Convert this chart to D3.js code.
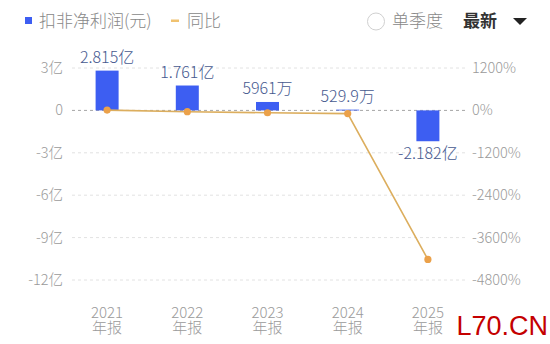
<!DOCTYPE html>
<html>
<head>
<meta charset="utf-8">
<script src="https://cdn.jsdelivr.net/npm/d3@7/dist/d3.min.js"></script>
<style>
  body { margin: 0; background: #fff; }
  svg { display: block; font-family: 'Noto Sans CJK SC', 'Noto Sans', sans-serif; font-weight: 300; }
  .grid line { stroke: #e2e2e2; stroke-dasharray: 3 3; }
  .tick-l, .tick-r { fill: #9a9a9a; font-size: 14.5px; }
</style>
</head>
<body>
<svg id="chart" width="550" height="344"></svg>
<script>
// data
const years = ['2021', '2022', '2023', '2024', '2025']
const profit = [2.815, 1.761, 0.5961, 0.05299, -2.182] // 亿元
const profitLabels = ['2.815亿', '1.761亿', '5961万', '529.9万', '-2.182亿']
const yoy = [8, -37.4, -66.1, -91.1, -4218] // %
const leftTicks = [3, 0, -3, -6, -9, -12]
const leftTickLabels = ['3亿', '0', '-3亿', '-6亿', '-9亿', '-12亿']
const rightTicks = [1200, 0, -1200, -2400, -3600, -4800]

const svg = d3.select('#chart')
const plot = { left: 72, right: 465, top: 68, bottom: 280 }

const x = d3.scaleBand().domain(years).range([67, 468])
const cx = d => x(d) + x.bandwidth() / 2
const yL = d3.scaleLinear().domain([-12, 3]).range([plot.bottom, plot.top])
const yR = d3.scaleLinear().domain([-4800, 1200]).range([plot.bottom, plot.top])

// grid
const grid = svg.append('g').classed('grid', true)
grid.selectAll('line').data(leftTicks).join('line')
  .attr('x1', plot.left).attr('x2', plot.right)
  .attr('y1', d => yL(d)).attr('y2', d => yL(d))
  .style('stroke', d => d === 0 ? '#a5a5a5' : null)

// left axis labels
svg.append('g').selectAll('text').data(leftTicks).join('text')
  .classed('tick-l', true)
  .attr('x', 63).attr('y', d => yL(d)).attr('dy', '0.35em')
  .attr('text-anchor', 'end')
  .text((d, i) => leftTickLabels[i])

// right axis labels
svg.append('g').selectAll('text').data(rightTicks).join('text')
  .classed('tick-r', true)
  .attr('x', 472).attr('y', d => yR(d)).attr('dy', '0.35em')
  .text(d => d + '%')

// x labels
const xg = svg.append('g').style('fill', '#9a9a9a').style('font-size', '15px').attr('text-anchor', 'middle')
xg.selectAll('text.yr').data(years).join('text').classed('yr', true)
  .attr('x', cx).attr('y', 317.5).text(d => d)
xg.selectAll('text.rp').data(years).join('text').classed('rp', true)
  .attr('x', cx).attr('y', 333).text('年报')

// bars
const barW = 23
svg.append('g').selectAll('rect').data(profit).join('rect')
  .attr('x', (d, i) => cx(years[i]) - barW / 2)
  .attr('width', barW)
  .attr('y', d => yL(Math.max(d, 0)))
  .attr('height', d => Math.max(0.8, Math.abs(yL(d) - yL(0))))
  .attr('fill', '#3d5ef2')

// value labels
svg.append('g').selectAll('text').data(profit).join('text')
  .attr('x', (d, i) => cx(years[i]))
  .attr('y', d => d >= 0 ? yL(d) - 7.5 : yL(d) + 18)
  .attr('text-anchor', 'middle')
  .style('fill', '#46598f').style('font-size', '16px')
  .text((d, i) => profitLabels[i])

// yoy line
const line = d3.line()
  .x((d, i) => cx(years[i]))
  .y(d => yR(d))
svg.append('path').datum(yoy)
  .attr('d', line)
  .attr('fill', 'none')
  .attr('stroke', '#dcae5e')
  .attr('stroke-width', 1.6)
svg.append('g').selectAll('circle').data(yoy).join('circle')
  .attr('cx', (d, i) => cx(years[i]))
  .attr('cy', d => yR(d))
  .attr('r', 3.6)
  .attr('fill', '#eba14a')

// legend
const lg = svg.append('g').style('font-size', '17px')
lg.append('rect').attr('x', 25).attr('y', 17).attr('width', 7).attr('height', 7).attr('fill', '#3d5ef2')
lg.append('text').attr('x', 39).attr('y', 27).style('fill', '#888').text('扣非净利润(元)')
lg.append('rect').attr('x', 171).attr('y', 19.5).attr('width', 8).attr('height', 2.5).attr('fill', '#f0c270')
lg.append('text').attr('x', 187).attr('y', 27).style('fill', '#888').text('同比')

// right controls
lg.append('circle').attr('cx', 376).attr('cy', 21.5).attr('r', 8.5).attr('fill', 'none').attr('stroke', '#d0d0d0').attr('stroke-width', 1)
lg.append('text').attr('x', 392).attr('y', 27).style('fill', '#888').text('单季度')
lg.append('text').attr('x', 463).attr('y', 27).style('fill', '#333').style('font-weight', 'bold').text('最新')
lg.append('path').attr('d', 'M513,18 L527,18 L520,25 Z').attr('fill', '#222')

// watermark
svg.append('text').attr('x', 548).attr('y', 335).attr('text-anchor', 'end')
  .style('fill', '#c40000').style('font-size', '27px').style('font-weight', 'normal')
  .style('font-family', 'Liberation Sans, Arial, sans-serif')
  .text('L70.CN')
</script>
</body>
</html>
